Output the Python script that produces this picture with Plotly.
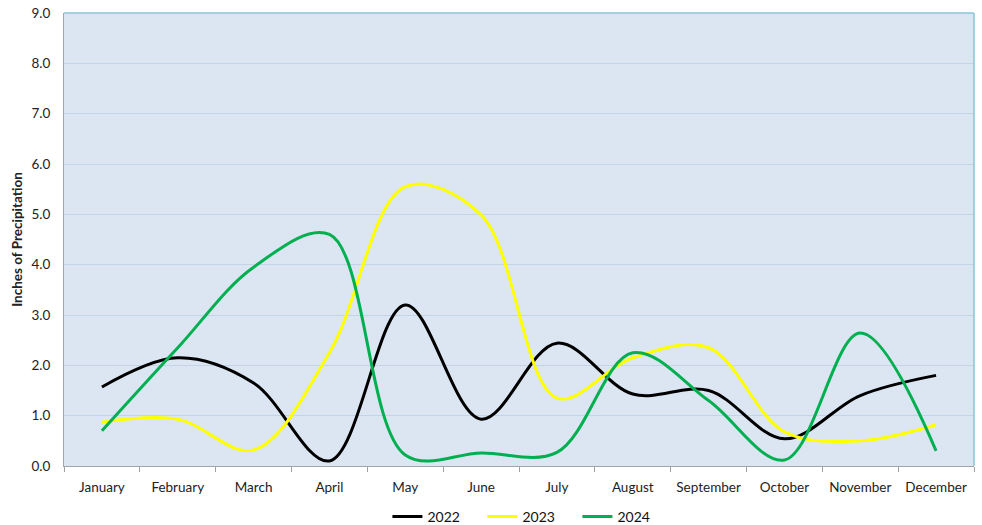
import plotly.graph_objects as go

# Monthly precipitation totals (inches)
months = ["January", "February", "March", "April", "May", "June",
          "July", "August", "September", "October", "November", "December"]
precip_2022 = [1.57, 2.15, 1.65, 0.10, 3.20, 0.93, 2.44, 1.43, 1.50, 0.54, 1.40, 1.80]
precip_2023 = [0.87, 0.93, 0.32, 2.25, 5.55, 4.99, 1.35, 2.15, 2.35, 0.68, 0.50, 0.82]
precip_2024 = [0.70, 2.35, 3.95, 4.60, 0.22, 0.26, 0.27, 2.25, 1.30, 0.12, 2.64, 0.30]

series = [
    ("2022", precip_2022, "#000000"),
    ("2023", precip_2023, "#ffff00"),
    ("2024", precip_2024, "#00b050"),
]

font_family = "Lato, 'Open Sans', sans-serif"

fig = go.Figure()
for name, vals, color in series:
    fig.add_trace(go.Scatter(
        x=months, y=vals, name=name, mode="lines",
        line=dict(color=color, width=3, shape="spline", smoothing=1.0),
    ))

fig.update_layout(
    width=982, height=525,
    margin=dict(l=64, r=8, t=13, b=59, autoexpand=False),
    paper_bgcolor="white",
    plot_bgcolor="#dce6f2",
    font=dict(family=font_family, size=13.5, color="#222222"),
    showlegend=True,
    legend=dict(orientation="h", x=0.512, xanchor="center", y=-0.077, yanchor="top",
                font=dict(size=14, color="#111111"), itemwidth=30,
                entrywidth=50, entrywidthmode="pixels",
                traceorder="normal"),
    xaxis=dict(
        type="category", tickson="boundaries", ticks="outside", ticklen=5,
        tickcolor="#a0a0a0", showline=True, linecolor="#a0a6ab", linewidth=1,
        showgrid=False, tickfont=dict(size=13.5), range=[-0.5, 11.5],
        ticklabelstandoff=9,
    ),
    yaxis=dict(
        range=[0, 9], dtick=1, tickformat=".1f", showgrid=True,
        gridcolor="#c3d3e8", gridwidth=1, showline=True, linecolor="#a0a6ab",
        linewidth=1, ticks="", tickfont=dict(size=13.5), zeroline=False,
        ticklabelstandoff=10,
        title=dict(text="<b>Inches of Precipitation</b>", font=dict(size=13.5), standoff=5),
    ),
    shapes=[
        dict(type="line", xref="paper", yref="paper", x0=0, x1=1, y0=1, y1=1,
             line=dict(color="#8cc4d6", width=1.5)),
        dict(type="line", xref="paper", yref="paper", x0=1, x1=1, y0=0, y1=1,
             line=dict(color="#8cc4d6", width=1.5)),
    ],
)

fig.write_html("out.html")
